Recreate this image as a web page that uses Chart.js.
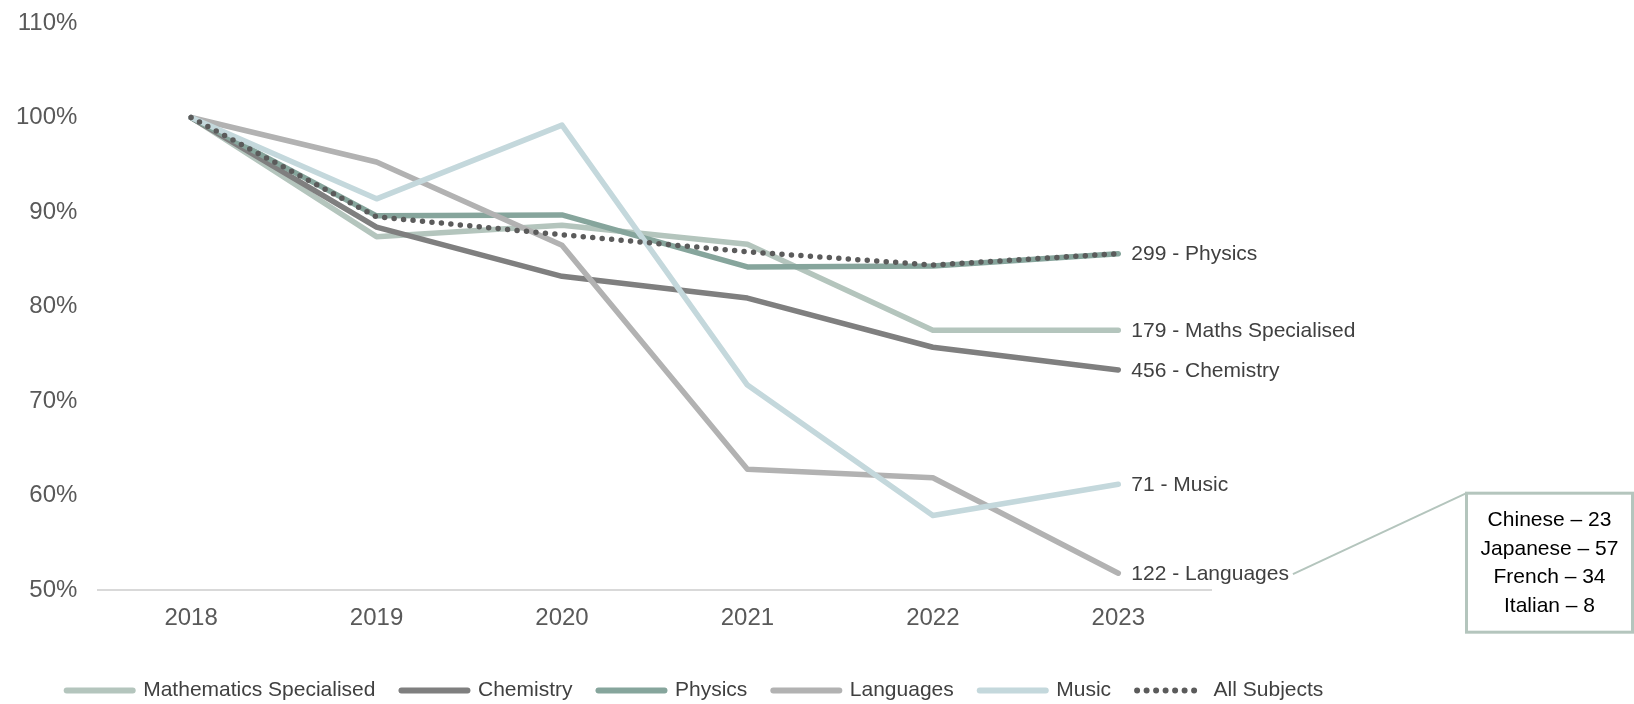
<!DOCTYPE html>
<html>
<head>
<meta charset="utf-8">
<script src="https://cdn.jsdelivr.net/npm/chart.js@4/dist/chart.umd.min.js"></script>
<style>
  html, body { margin: 0; padding: 0; background: #ffffff; }
  #wrap { width: 1634px; height: 704px; position: relative; }
</style>
</head>
<body>
<div id="wrap"><canvas id="retentionChart"></canvas></div>
<script>
// Data
const years = ['2018', '2019', '2020', '2021', '2022', '2023'];
const mathsSpecialised = [100, 87.4, 88.6, 86.6, 77.5, 77.5];
const chemistry = [100, 88.4, 83.2, 80.9, 75.7, 73.3];
const physics = [100, 89.6, 89.7, 84.2, 84.3, 85.6];
const languages = [100, 95.3, 86.5, 62.8, 61.9, 51.8];
const music = [100, 91.4, 99.2, 71.7, 57.9, 61.2];
const allSubjects = [100, 89.5, 87.6, 85.8, 84.4, 85.6];

// End labels (student counts in 2023)
const endLabels = ['179 - Maths Specialised', '456 - Chemistry', '299 - Physics', '122 - Languages', '71 - Music', null];
const languageBreakdown = ['Chinese \u2013 23', 'Japanese \u2013 57', 'French \u2013 34', 'Italian \u2013 8'];

const FONT = "'Liberation Sans', Arial, sans-serif";
const SAGE = '#b4c5bd';

function lineSet(label, data, color, order, extra) {
    return Object.assign({
        label: label,
        data: data,
        borderColor: color,
        backgroundColor: color,
        borderWidth: 5.5,
        borderCapStyle: 'round',
        borderJoinStyle: 'round',
        pointRadius: 0,
        pointHoverRadius: 0,
        tension: 0,
        fill: false,
        order: order
    }, extra || {});
}

// Draws the end-of-line labels and the languages breakdown box
const endLabelPlugin = {
    id: 'endLabels',
    afterDatasetsDraw(chart) {
        const ctx = chart.ctx;
        ctx.save();
        ctx.font = '21px ' + FONT;
        ctx.fillStyle = '#404040';
        ctx.textAlign = 'left';
        ctx.textBaseline = 'middle';
        let langEnd = null;
        chart.data.datasets.forEach((ds, i) => {
            const text = endLabels[i];
            if (!text) return;
            const pts = chart.getDatasetMeta(i).data;
            const p = pts[pts.length - 1];
            ctx.fillText(text, p.x + 13, p.y + 1);
            if (ds.label === 'Languages') {
                langEnd = { x: p.x + 13 + ctx.measureText(text).width + 4, y: p.y + 1 };
            }
        });

        if (langEnd) {
            const boxW = 166, boxH = 139;
            const boxX = chart.width - boxW - 1.5;
            const boxY = langEnd.y - 81;
            ctx.strokeStyle = SAGE;
            ctx.lineWidth = 2;
            ctx.beginPath();
            ctx.moveTo(langEnd.x, langEnd.y);
            ctx.lineTo(boxX, boxY);
            ctx.stroke();

            ctx.lineWidth = 3;
            ctx.strokeRect(boxX, boxY, boxW, boxH);

            ctx.fillStyle = '#000000';
            ctx.font = '21px ' + FONT;
            ctx.textAlign = 'center';
            languageBreakdown.forEach((t, k) => {
                ctx.fillText(t, boxX + boxW / 2, boxY + 27 + k * 28.7);
            });
        }
        ctx.restore();
    }
};

new Chart(document.getElementById('retentionChart'), {
    type: 'line',
    data: {
        labels: years,
        datasets: [
            lineSet('Mathematics Specialised', mathsSpecialised, SAGE, 6),
            lineSet('Chemistry', chemistry, '#7f7f7f', 5),
            lineSet('Physics', physics, '#86a59c', 4),
            lineSet('Languages', languages, '#b2b2b2', 3),
            lineSet('Music', music, '#c4d8dc', 2),
            lineSet('All Subjects', allSubjects, '#5b5b5b', 1, { borderDash: [0, 9.5] })
        ]
    },
    options: {
        responsive: true,
        maintainAspectRatio: false,
        animation: false,
        layout: { padding: { top: 23, left: -5, right: 239, bottom: -7 } },
        plugins: {
            tooltip: { enabled: false },
            legend: {
                position: 'bottom',
                labels: {
                    usePointStyle: true,
                    pointStyle: 'line',
                    pointStyleWidth: 66,
                    boxHeight: 21,
                    padding: 26,
                    color: '#404040',
                    font: { family: FONT, size: 21 },
                    generateLabels: chart => {
                        const items = Chart.defaults.plugins.legend.labels.generateLabels(chart);
                        items.forEach(it => {
                            const ds = chart.data.datasets[it.datasetIndex];
                            it.lineDash = ds.borderDash || [];
                            it.lineCap = 'round';
                            it.lineWidth = 6;
                        });
                        return items.sort((a, b) => a.datasetIndex - b.datasetIndex);
                    }
                }
            }
        },
        scales: {
            x: {
                offset: true,
                grid: { display: false, drawTicks: false },
                border: { display: true, color: '#d9d9d9', width: 2 },
                ticks: { color: '#595959', padding: 14, font: { family: FONT, size: 24 } },
                afterFit: s => { s.height += 7; }
            },
            y: {
                min: 50,
                max: 110,
                grid: { display: false, drawTicks: false },
                border: { display: false },
                ticks: {
                    stepSize: 10,
                    padding: 21,
                    color: '#595959',
                    font: { family: FONT, size: 24 },
                    callback: v => v + '%'
                },
                afterFit: s => { s.paddingTop = 14; s.paddingBottom = 14; }
            },
            yRight: {
                position: 'right',
                display: true,
                grid: { display: false, drawTicks: false },
                border: { display: false },
                ticks: { display: false },
                afterFit: s => { s.width = 184; }
            }
        }
    },
    plugins: [endLabelPlugin]
});
</script>
</body>
</html>
